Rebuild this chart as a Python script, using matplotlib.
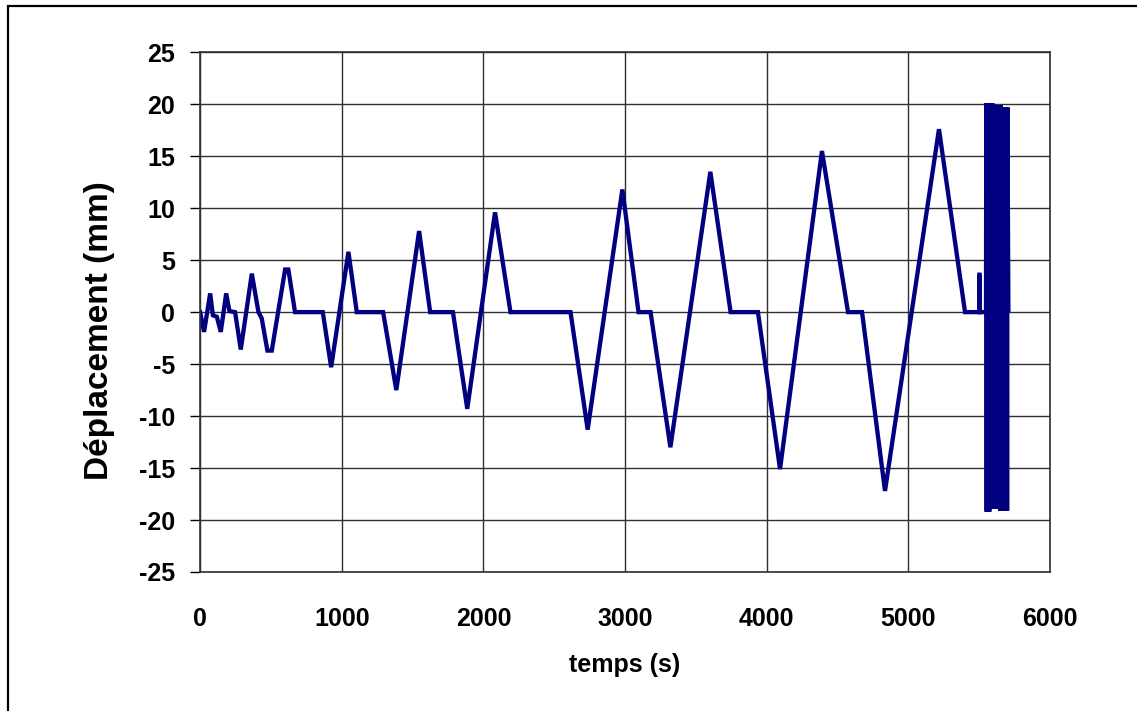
import numpy as np
import matplotlib.pyplot as plt
from matplotlib.patches import Rectangle

# turning points of the loading history
time_s = [0, 28, 71, 90, 118, 146, 184, 207, 247, 287, 365, 412, 435, 475, 506,
          600, 623, 670, 866, 925, 1047, 1106, 1292, 1385, 1546, 1624, 1785,
          1886, 2082, 2191, 2615, 2736, 2981, 3095, 3180, 3320, 3602, 3745,
          3938, 4094, 4390, 4574, 4673, 4835, 5216, 5400, 5500, 5501, 5503,
          5504, 5548]
depl_mm = [0, -1.9, 1.8, -0.3, -0.45, -1.9, 1.8, 0.1, 0, -3.6, 3.7, 0, -0.6,
           -3.7, -3.7, 4.1, 4.1, 0, 0, -5.3, 5.8, 0, 0, -7.5, 7.8, 0, 0,
           -9.3, 9.6, 0, 0, -11.3, 11.8, 0, 0, -13.0, 13.5, 0, 0, -15.1,
           15.5, 0, 0, -17.2, 17.6, 0, 0, 3.6, 3.6, 0, 0]

# final fast cycles (peak / trough pairs)
burst_t = [5550, 5553, 5556, 5559, 5562, 5565, 5568, 5571, 5574, 5577, 5580,
           5583, 5586, 5589, 5592, 5595, 5598, 5601, 5604, 5607, 5610, 5613,
           5616, 5619, 5622, 5625, 5628, 5631, 5634, 5637, 5640, 5643, 5646,
           5649, 5652, 5655, 5658, 5661, 5664, 5667, 5670, 5673, 5676, 5679,
           5682, 5685, 5688, 5691, 5694, 5697, 5699, 5706]
burst_mm = [20.1, -19.2, 20.1, -19.2, 20.1, -19.2, 20.1, -19.2, 20.1, -18.9,
            20.1, -18.9, 20.1, -18.9, 20.1, -18.9, 20.0, -18.9, 19.9, -18.9,
            19.9, -18.9, 19.9, -18.9, 19.9, -18.9, 19.9, -18.9, 19.9, -18.9,
            19.9, -18.9, 19.9, -19.1, 19.9, -19.1, 19.7, -19.1, 19.7, -19.1,
            19.7, -19.1, 19.7, -19.1, 19.7, -19.1, 19.7, -19.1, 19.7, -19.1,
            19.7, 0.2]

plt.rcParams['font.family'] = ['Liberation Sans', 'DejaVu Sans']
plt.rcParams['font.weight'] = 'bold'
plt.rcParams['axes.unicode_minus'] = False

fig = plt.figure(figsize=(11.37, 7.11), dpi=100)
ax = fig.add_axes([0.176, 0.1955, 0.7475, 0.731])

t = np.concatenate([time_s, burst_t])
d = np.concatenate([depl_mm, burst_mm])
ax.plot(t, d, color='#000080', lw=3.1, solid_joinstyle='miter')

ax.set_xlim(0, 6000)
ax.set_ylim(-25, 25)
ax.set_xticks(np.arange(0, 6001, 1000))
ax.set_yticks(np.arange(-25, 26, 5))
ax.grid(True, color='#303030', lw=1)
ax.set_axisbelow(True)
for s in ax.spines.values():
    s.set_color('#303030')
    s.set_linewidth(1.2)

ax.tick_params(axis='y', direction='out', length=7, width=1, pad=11, labelsize=18)
ax.tick_params(axis='x', length=0, pad=25, labelsize=18)
for lab in ax.get_xticklabels() + ax.get_yticklabels():
    lab.set_fontweight('bold')

ax.set_xlabel('temps (s)', fontsize=18, fontweight='bold', labelpad=16)
ax.set_ylabel('Déplacement (mm)', fontsize=24, fontweight='bold')
ax.yaxis.set_label_coords(-0.1, 0.4635)

# outer frame of the chart area (only top and left edges visible)
fig.add_artist(Rectangle((8 / 1137, -0.5), 2, 1.5 - 6 / 711, transform=fig.transFigure,
                         fill=False, edgecolor='black', lw=1.6))

fig.savefig('out.png', dpi=100)
